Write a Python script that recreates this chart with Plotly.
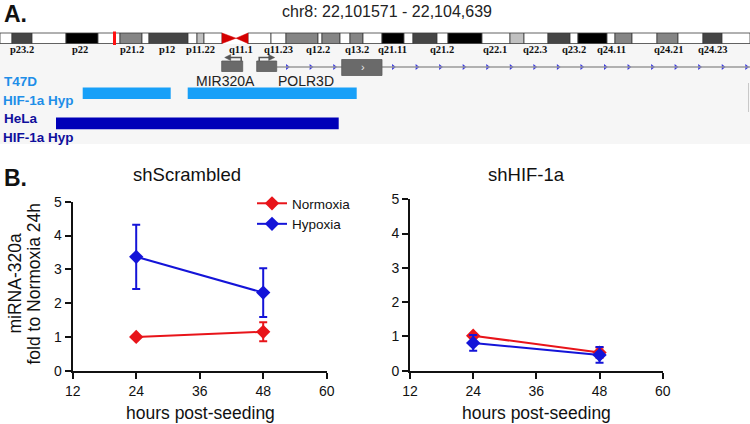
import plotly.graph_objects as go
import numpy as np

# ---------------- Panel A data (ideogram units, 0-750 across chr8) ----------------
region_title = "chr8: 22,101571 - 22,104,639"
band_start = [0, 12, 32, 66, 98, 120, 142, 149, 188, 197, 204, 248, 271, 286, 318, 322, 340, 350, 363,
              382, 404, 413, 437, 448, 482, 510, 524, 548, 570, 578, 607, 615, 632, 657, 678, 703, 722]
band_end = [12, 32, 66, 98, 120, 142, 149, 188, 197, 204, 222, 271, 286, 318, 322, 340, 350, 363, 382,
            404, 413, 437, 448, 482, 510, 524, 548, 570, 578, 607, 615, 632, 657, 678, 703, 722, 750]
band_stain = ["gneg", "gpos75", "gneg", "gpos100", "gneg", "gpos50", "gneg", "gpos75", "gneg", "gpos25", "gneg",
              "gneg", "gneg", "gpos50", "gneg", "gpos50", "gneg", "gpos50", "gneg",
              "gpos100", "gneg", "gpos75", "gneg", "gpos100", "gneg", "gpos25", "gneg", "gpos75", "gneg",
              "gpos100", "gneg", "gpos50", "gneg", "gpos50", "gneg", "gpos75", "gneg"]
centromere = [222, 236, 248]
viewed_region = [113, 116]
band_labels = ["p23.2", "p22", "p21.2", "p12", "p11.22", "q11.1", "q11.23", "q12.2", "q13.2",
               "q21.11", "q21.2", "q22.1", "q22.3", "q23.2", "q24.11", "q24.21", "q24.23"]
band_label_pos = [22, 80, 132, 167, 200, 241, 278, 318, 357, 392, 442, 495, 535, 574, 611, 668, 712]

# genes (zoomed region units)
gene_names = ["MIR320A", "POLR3D"]
gene_label_pos = [225, 306]
mir_exon = [221.7, 242.7]
polr_exon_start = [256.7, 341.7]
polr_exon_end = [276.7, 382.0]
polr_gene_end = 750

# ChIP peak tracks
track_labels = ["T47D<br>HIF-1a Hyp", "HeLa<br>HIF-1a Hyp"]
t47d_start = [82.7, 187.7]
t47d_end = [170.7, 356.7]
hela_start = [56.0]
hela_end = [338.7]

# ---------------- Panel B data ----------------
hours = [24, 48]
scr_norm = [1.00, 1.15]
scr_norm_err = [0.0, 0.28]
scr_hyp = [3.37, 2.31]
scr_hyp_err = [0.95, 0.72]
hif_norm = [1.02, 0.53]
hif_norm_err = [0.06, 0.15]
hif_hyp = [0.81, 0.46]
hif_hyp_err = [0.23, 0.23]
x_ticks = [12, 24, 36, 48, 60]
y_ticks = [0, 1, 2, 3, 4, 5]

W, H = 750, 424
RED = "#e8141a"
BLUE = "#1414d8"
stain_color = {"gneg": "#ffffff", "gpos25": "#c0c0c0", "gpos50": "#858585",
               "gpos75": "#454545", "gpos100": "#000000"}
FONT = "Liberation Sans, Arial, sans-serif"

fig = go.Figure()
shapes = []
ann = []

def px(x):
    return x / W

# ---- Panel A: overlay axis covering the whole canvas ----
A = dict(xref="x3", yref="y3")
shapes.append(dict(type="rect", x0=0, x1=750, y0=44, y1=144, fillcolor="#f6f6f6",
                   line=dict(width=0), layer="below", **A))
for s, e, st in zip(band_start, band_end, band_stain):
    shapes.append(dict(type="rect", x0=s, x1=e, y0=33, y1=43.5, fillcolor=stain_color[st],
                       line=dict(color="#3a3a3a", width=0.8), **A))
c0, cm, c1 = centromere
shapes.append(dict(type="path", path=f"M {c0},33 L {cm},38.2 L {c0},43.5 Z", fillcolor="#d40000",
                   line=dict(color="#d40000", width=0.5), **A))
shapes.append(dict(type="path", path=f"M {c1},33 L {cm},38.2 L {c1},43.5 Z", fillcolor="#d40000",
                   line=dict(color="#d40000", width=0.5), **A))
shapes.append(dict(type="rect", x0=viewed_region[0], x1=viewed_region[1], y0=31.5, y1=45,
                   fillcolor="#ff1010", line=dict(width=0), **A))
for lab, pos in zip(band_labels, band_label_pos):
    ann.append(dict(text=f"<b>{lab}</b>", x=pos, y=49.5, showarrow=False,
                    font=dict(family="Liberation Serif, Times New Roman, serif", size=10.5, color="#111"),
                    xanchor="center", yanchor="middle", **A))

shapes.append(dict(type="line", x0=polr_exon_end[0], x1=polr_gene_end, y0=67, y1=67,
                   line=dict(color="#9a9a9a", width=1.6), **A))
intron1 = np.arange(polr_exon_end[0] + 10.6, polr_exon_start[1], 23.6)
intron2 = np.arange(polr_exon_end[1] + 11.3, polr_gene_end, 23.55)
arrows_x = np.concatenate([intron1, intron2])
fig.add_trace(go.Scatter(x=arrows_x, y=[67] * len(arrows_x), mode="markers", xaxis="x3", yaxis="y3",
                         marker=dict(symbol="triangle-right", size=5, color="#3a3ae0"),
                         showlegend=False, hoverinfo="skip"))
shapes.append(dict(type="rect", x0=mir_exon[0], x1=mir_exon[1], y0=61, y1=71.5,
                   fillcolor="#6a6a6a", line=dict(color="#5a5a5a", width=0.8), **A))
shapes.append(dict(type="rect", x0=polr_exon_start[0], x1=polr_exon_end[0], y0=61, y1=71.5,
                   fillcolor="#6a6a6a", line=dict(color="#5a5a5a", width=0.8), **A))
shapes.append(dict(type="rect", x0=polr_exon_start[1], x1=polr_exon_end[1], y0=59.5, y1=75.5,
                   fillcolor="#6a6a6a", line=dict(color="#5a5a5a", width=0.8), **A))
ann.append(dict(text="›", x=(polr_exon_start[1] + polr_exon_end[1]) / 2 + 1, y=67, showarrow=False,
                font=dict(family=FONT, size=11, color="#eeeeee"), **A))
mx = mir_exon[1] - 1.5
shapes.append(dict(type="path", path=f"M {mx},61 L {mx},57.5 L {mir_exon[0]+8},57.5",
                   line=dict(color="#555", width=1.5), **A))
shapes.append(dict(type="path", path=f"M {mir_exon[0]+3},57.5 L {mir_exon[0]+9},54.5 L {mir_exon[0]+9},60.5 Z",
                   fillcolor="#555", line=dict(color="#555", width=0.5), **A))
px0 = polr_exon_start[0] + 2.5
shapes.append(dict(type="path", path=f"M {px0},61 L {px0},57.5 L {polr_exon_end[0]-5},57.5",
                   line=dict(color="#555", width=1.5), **A))
shapes.append(dict(type="path", path=f"M {polr_exon_end[0]-2},57.5 L {polr_exon_end[0]-8},54.5 L {polr_exon_end[0]-8},60.5 Z",
                   fillcolor="#555", line=dict(color="#555", width=0.5), **A))
for g, gx in zip(gene_names, gene_label_pos):
    ann.append(dict(text=g, x=gx, y=80.5, showarrow=False, font=dict(family=FONT, size=14, color="#222"),
                    xanchor="center", yanchor="middle", **A))
for s, e in zip(t47d_start, t47d_end):
    shapes.append(dict(type="rect", x0=s, x1=e, y0=87.5, y1=99, fillcolor="#18a0f8",
                       line=dict(width=0), **A))
for s, e in zip(hela_start, hela_end):
    shapes.append(dict(type="rect", x0=s, x1=e, y0=117.5, y1=129.3, fillcolor="#0000b8",
                       line=dict(width=0), **A))
shapes.append(dict(type="line", x0=748.5, x1=748.5, y0=83, y1=112, line=dict(color="#c8c8c8", width=1), **A))
track_colors = ["#1e8ee8", "#0f0f9c"]
for lab, yy, col in zip(track_labels, [90.5, 127.5], track_colors):
    l1, l2 = lab.split("<br>")
    ann.append(dict(text=f"<b>{l1}</b>", x=2, y=yy - 9.5, showarrow=False, xanchor="left", yanchor="middle",
                    font=dict(family=FONT, size=13.5, color=col), **A))
    ann.append(dict(text=f"<b>{l2}</b>", x=1, y=yy + 9.5, showarrow=False, xanchor="left", yanchor="middle",
                    font=dict(family=FONT, size=13.5, color=col), **A))

ann.append(dict(text="<b>A.</b>", x=2, y=14, showarrow=False, xanchor="left", yanchor="middle",
                font=dict(family=FONT, size=23, color="#111"), **A))
ann.append(dict(text=region_title, x=387, y=11, showarrow=False, xanchor="center", yanchor="middle",
                font=dict(family=FONT, size=16, color="#222"), **A))

# ---- Panel B ----
ann.append(dict(text="<b>B.</b>", x=2, y=178, showarrow=False, xanchor="left", yanchor="middle",
                font=dict(family=FONT, size=23, color="#111"), **A))
ann.append(dict(text="shScrambled", x=187, y=174, showarrow=False, xanchor="center", yanchor="middle",
                font=dict(family=FONT, size=18.5, color="#111"), **A))
ann.append(dict(text="shHIF-1a", x=526, y=174, showarrow=False, xanchor="center", yanchor="middle",
                font=dict(family=FONT, size=18.5, color="#111"), **A))
for cx in [200, 536]:
    ann.append(dict(text="hours post-seeding", x=cx, y=413, showarrow=False, xanchor="center",
                    yanchor="middle", font=dict(family=FONT, size=17.5, color="#111"), **A))
ann.append(dict(text="miRNA-320a", x=14.5, y=284, showarrow=False, textangle=-90, xanchor="center",
                yanchor="middle", font=dict(family=FONT, size=17.5, color="#111"), **A))
ann.append(dict(text="fold to Normoxia 24h", x=33.5, y=284, showarrow=False, textangle=-90, xanchor="center",
                yanchor="middle", font=dict(family=FONT, size=17.5, color="#111"), **A))

def add_series(xa, ya, y, err, name, color, show):
    fig.add_trace(go.Scatter(
        x=hours, y=y, name=name, mode="lines+markers", xaxis=xa, yaxis=ya,
        line=dict(color=color, width=2),
        marker=dict(symbol="diamond", size=11, color=color),
        error_y=dict(type="data", array=err, visible=True, color=color, thickness=2, width=4),
        showlegend=show, legendgroup=name))

add_series("x", "y", scr_norm, scr_norm_err, "Normoxia", RED, True)
add_series("x", "y", scr_hyp, scr_hyp_err, "Hypoxia", BLUE, True)
add_series("x2", "y2", hif_norm, hif_norm_err, "Normoxia", RED, False)
add_series("x2", "y2", hif_hyp, hif_hyp_err, "Hypoxia", BLUE, False)

ybot = 1 - 370.7 / H
axis_common = dict(showgrid=False, zeroline=False, showline=True, linecolor="#111", linewidth=2,
                   ticks="outside", ticklen=6, tickwidth=1.8, tickcolor="#111", automargin=False,
                   tickfont=dict(family=FONT, size=14, color="#111"))
fig.update_layout(
    template="none",
    xaxis=dict(domain=[px(72.7), px(326.7)], range=[12, 60], tickvals=x_ticks, anchor="y", **axis_common),
    yaxis=dict(domain=[ybot, 1 - 201.7 / H], range=[0, 5], tickvals=y_ticks, anchor="x", **axis_common),
    xaxis2=dict(domain=[px(410), px(662.7)], range=[12, 60], tickvals=x_ticks, anchor="y2", **axis_common),
    yaxis2=dict(domain=[ybot, 1 - 199.3 / H], range=[0, 5], tickvals=y_ticks, anchor="x2", **axis_common),
    xaxis3=dict(domain=[0, 1], range=[0, W], visible=False, fixedrange=True, anchor="y3", automargin=False),
    yaxis3=dict(domain=[0, 1], range=[H, 0], visible=False, fixedrange=True, anchor="x3", automargin=False),
    width=W, height=H, margin=dict(l=0, r=0, t=0, b=0, pad=0, autoexpand=False),
    paper_bgcolor="white", plot_bgcolor="rgba(0,0,0,0)",
    shapes=shapes, annotations=ann,
    legend=dict(x=px(252), y=1 - 188 / H, xanchor="left", yanchor="top", bgcolor="rgba(0,0,0,0)",
                font=dict(family=FONT, size=13.5, color="#111"), tracegroupgap=0),
    showlegend=True,
)
fig.write_html("out.html", config={"displayModeBar": False},
               post_script="document.body.style.margin='0';")
